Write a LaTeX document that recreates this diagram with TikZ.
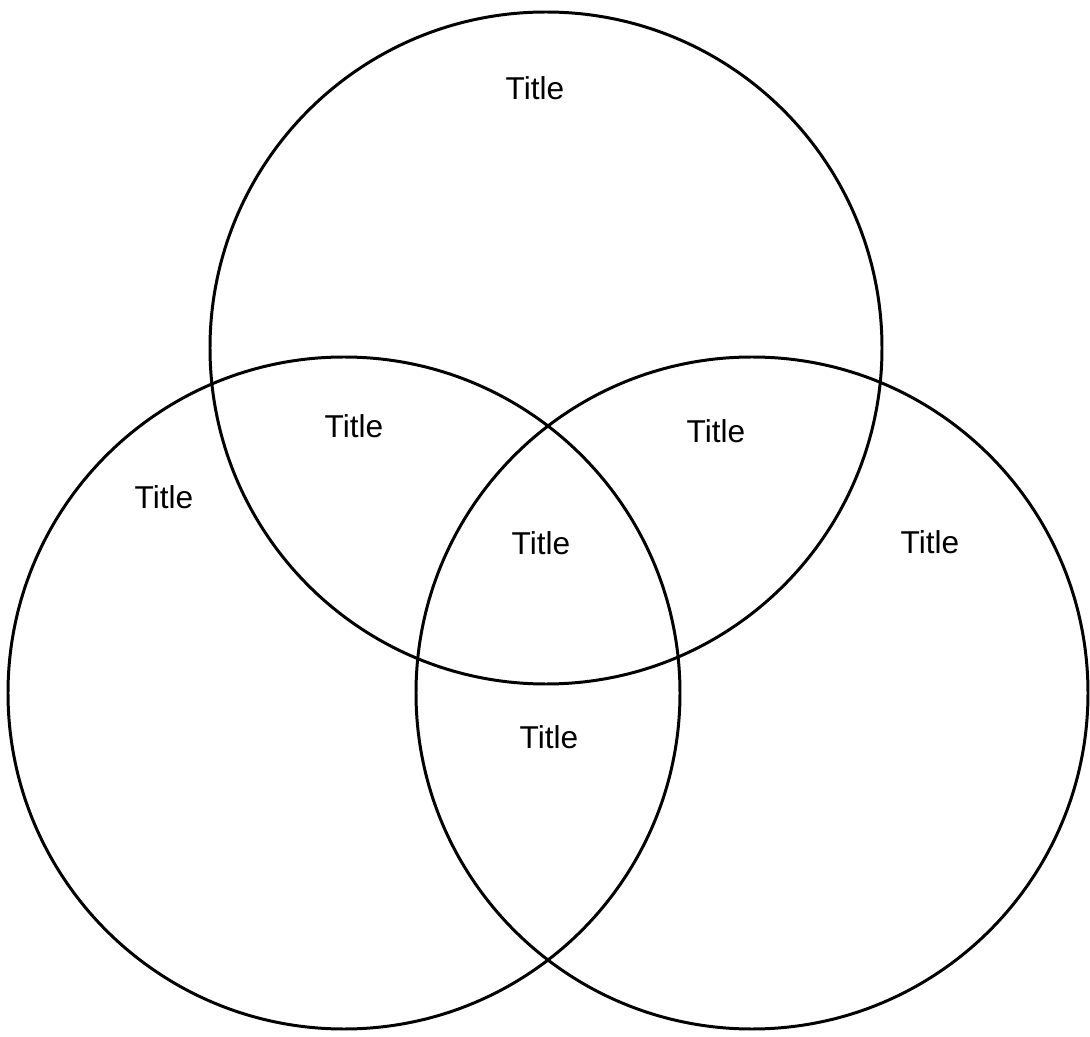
\documentclass[tikz,border=0pt]{standalone}
\usepackage{fontspec}
\setmainfont{Liberation Sans}

\begin{document}
\begin{tikzpicture}[x=0.02cm,y=-0.02cm,
                      ring/.style={line width=1.7pt,black},
                      every node/.style={font=\fontsize{18}{21}\selectfont}]
    \useasboundingbox (0,0) rectangle (1090,1037);
    \draw[ring] (546,348) circle[radius=336];
    \draw[ring] (344,693) circle[radius=336];
    \draw[ring] (752,693) circle[radius=336];
    \node (ttop) at (535,88) {Title};
    \node (tleft) at (164,497) {Title};
    \node (tright) at (930,542) {Title};
    \node (ttl) at (354,426) {Title};
    \node (ttr) at (716,431) {Title};
    \node (tmid) at (541,543) {Title};
    \node (tbot) at (549,737) {Title};
  \end{tikzpicture}
\end{document}
